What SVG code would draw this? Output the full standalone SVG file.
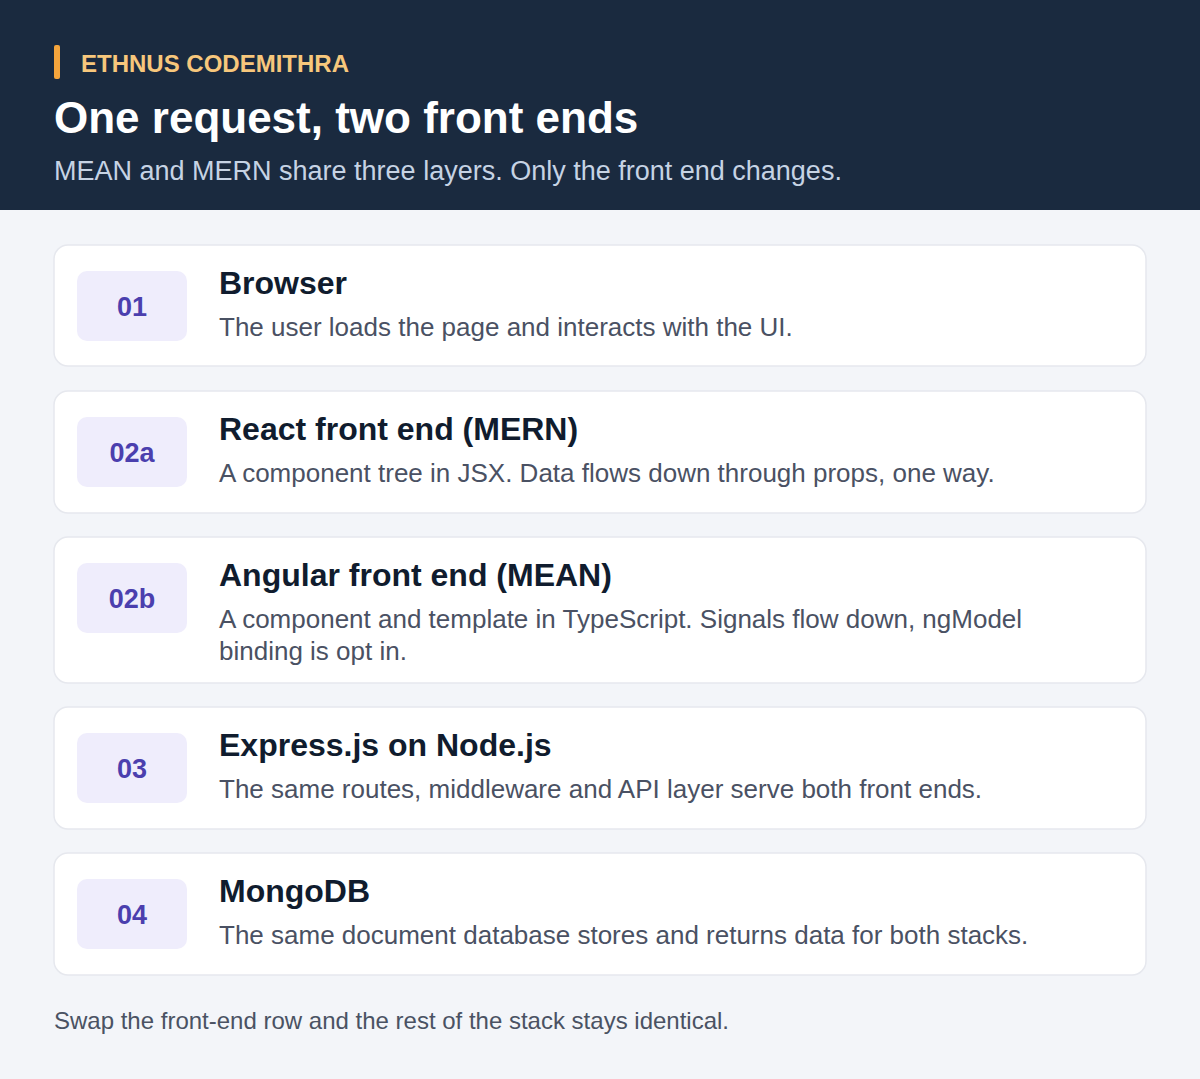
<svg xmlns="http://www.w3.org/2000/svg" width="1200" height="1079" viewBox="0 0 1200 1079">
<style>
.card{fill:#ffffff;stroke:#e6e8ee;stroke-width:1.5}
.badge{fill:#efedfc}
.num{font-family:"Liberation Sans",Arial,sans-serif;font-weight:700;font-size:27px;fill:#4b3fae;text-anchor:middle}
.title{font-family:"Liberation Sans",Arial,sans-serif;font-weight:700;font-size:32px;fill:#101c2e}
.desc{font-family:"Liberation Sans",Arial,sans-serif;font-size:26px;fill:#4a5163}
</style>
<rect x="0" y="0" width="1200" height="1079" fill="#f3f5f9"/>
<rect x="0" y="0" width="1200" height="210" fill="#1a2a3f"/>
<rect x="54" y="45" width="6" height="34" rx="2" fill="#f5a53c"/>
<text x="81" y="72" font-family="Liberation Sans,Arial,sans-serif" font-weight="700" font-size="24" fill="#f7c77c">ETHNUS CODEMITHRA</text>
<text x="54" y="133" font-family="Liberation Sans,Arial,sans-serif" font-weight="700" font-size="44" fill="#ffffff">One request, two front ends</text>
<text x="54" y="180" font-family="Liberation Sans,Arial,sans-serif" font-size="27" fill="#c6d3e4">MEAN and MERN share three layers. Only the front end changes.</text>

<g id="node-01">
<rect class="card" x="54" y="245" width="1092" height="121" rx="14"/>
<rect class="badge" x="77" y="271" width="110" height="70" rx="10"/>
<text class="num" x="132" y="316">01</text>
<text class="title" x="219" y="294">Browser</text>
<text class="desc" x="219" y="336">The user loads the page and interacts with the UI.</text>
</g>
<g id="node-02a">
<rect class="card" x="54" y="391" width="1092" height="122" rx="14"/>
<rect class="badge" x="77" y="417" width="110" height="70" rx="10"/>
<text class="num" x="132" y="462">02a</text>
<text class="title" x="219" y="440">React front end (MERN)</text>
<text class="desc" x="219" y="482">A component tree in JSX. Data flows down through props, one way.</text>
</g>
<g id="node-02b">
<rect class="card" x="54" y="537" width="1092" height="146" rx="14"/>
<rect class="badge" x="77" y="563" width="110" height="70" rx="10"/>
<text class="num" x="132" y="608">02b</text>
<text class="title" x="219" y="586">Angular front end (MEAN)</text>
<text class="desc" x="219" y="628">A component and template in TypeScript. Signals flow down, ngModel</text>
<text class="desc" x="219" y="660">binding is opt in.</text>
</g>
<g id="node-03">
<rect class="card" x="54" y="707" width="1092" height="122" rx="14"/>
<rect class="badge" x="77" y="733" width="110" height="70" rx="10"/>
<text class="num" x="132" y="778">03</text>
<text class="title" x="219" y="756">Express.js on Node.js</text>
<text class="desc" x="219" y="798">The same routes, middleware and API layer serve both front ends.</text>
</g>
<g id="node-04">
<rect class="card" x="54" y="853" width="1092" height="122" rx="14"/>
<rect class="badge" x="77" y="879" width="110" height="70" rx="10"/>
<text class="num" x="132" y="924">04</text>
<text class="title" x="219" y="902">MongoDB</text>
<text class="desc" x="219" y="944">The same document database stores and returns data for both stacks.</text>
</g>
<g id="connectors"></g>
<text x="54" y="1029" font-family="Liberation Sans,Arial,sans-serif" font-size="24" fill="#4a5263">Swap the front-end row and the rest of the stack stays identical.</text>
</svg>
